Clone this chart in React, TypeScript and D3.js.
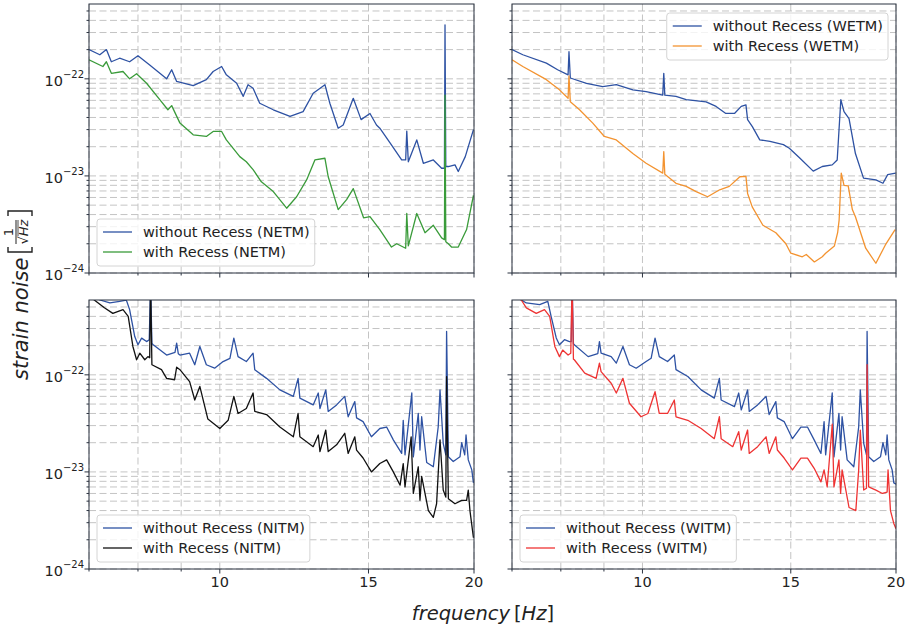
import React from "react";
import * as d3 from "d3";

type Pt = [number, number];

// ---- Spectra: [frequency (Hz), strain noise (1/sqrt(Hz))] ----
const netmWithout: Pt[] = [
  [7.0, 2.0e-22], [7.21, 1.77e-22], [7.34, 2.0e-22], [7.44, 1.5e-22], [7.61, 1.63e-22],
  [7.82, 1.5e-22], [8.0, 1.73e-22], [8.26, 1.39e-22], [8.65, 1.0e-22], [8.77, 1.24e-22],
  [8.89, 9.4e-23], [9.3, 8.5e-23], [9.64, 9.8e-23], [9.82, 1.19e-22], [10.05, 1.34e-22],
  [10.18, 1.1e-22], [10.47, 9.0e-23], [10.66, 6.6e-23], [10.8, 8.7e-23], [10.95, 8.0e-23],
  [11.15, 5.6e-23], [11.57, 4.8e-23], [12.11, 4.1e-23], [12.55, 4.6e-23], [12.9, 7.1e-23],
  [13.32, 8.7e-23], [13.5, 5.6e-23], [13.81, 3.1e-23], [14.0, 3.35e-23], [14.39, 6.3e-23],
  [14.7, 3.8e-23], [15.06, 4.4e-23], [15.33, 3.35e-23], [15.47, 3.1e-23], [15.9, 2.2e-23],
  [16.42, 1.46e-23], [16.6, 1.46e-23], [16.65, 2.9e-23], [16.72, 1.4e-23], [17.11, 2.35e-23],
  [17.42, 1.35e-23], [17.9, 1.46e-23], [18.31, 1.2e-23], [18.45, 1.2e-23], [18.48, 3.6e-22],
  [18.52, 1.25e-23], [18.65, 1.25e-23], [18.99, 1.3e-23], [19.16, 1.11e-23], [19.53, 1.58e-23],
  [19.97, 3.0e-23],
];
const netmWith: Pt[] = [
  [7.0, 1.57e-22], [7.27, 1.34e-22], [7.34, 1.5e-22], [7.44, 1.14e-22], [7.68, 1.19e-22],
  [7.82, 1.0e-22], [7.97, 1.13e-22], [8.19, 9.0e-23], [8.49, 6.1e-23], [8.68, 4.8e-23],
  [8.77, 5.3e-23], [8.97, 3.5e-23], [9.3, 2.65e-23], [9.64, 2.55e-23], [9.82, 2.87e-23],
  [10.05, 2.87e-23], [10.18, 2.35e-23], [10.56, 1.58e-23], [10.75, 1.4e-23], [10.95, 1.16e-23],
  [11.2, 8.7e-24], [11.57, 6.9e-24], [12.0, 4.65e-24], [12.33, 6.1e-24], [12.67, 9.1e-24],
  [12.96, 1.46e-23], [13.32, 1.52e-23], [13.44, 9.8e-24], [13.81, 4.5e-24], [14.13, 5.7e-24],
  [14.39, 7.4e-24], [14.8, 3.7e-24], [15.06, 3.8e-24], [15.47, 2.8e-24], [15.97, 1.85e-24],
  [16.2, 2.0e-24], [16.6, 1.8e-24], [16.65, 4.1e-24], [16.72, 1.9e-24], [17.11, 4.1e-24],
  [17.5, 2.6e-24], [17.9, 3.1e-24], [18.31, 2.3e-24], [18.45, 2.2e-24], [18.48, 6.8e-23],
  [18.52, 2.1e-24], [18.65, 2.0e-24], [18.81, 1.85e-24], [19.16, 1.85e-24], [19.6, 2.8e-24],
  [19.97, 6.3e-24],
];

const wetmWithout: Pt[] = [
  [7.0, 2.0e-22], [7.21, 1.77e-22], [7.69, 1.45e-22], [7.93, 1.24e-22], [8.16, 1.1e-22],
  [8.18, 1.9e-22], [8.21, 1.02e-22], [8.58, 9.0e-23], [8.97, 8.3e-23], [9.31, 8.7e-23],
  [9.74, 7.7e-23], [10.1, 7.4e-23], [10.57, 6.8e-23], [10.6, 1.14e-22], [10.63, 6.8e-23],
  [10.96, 6.6e-23], [11.27, 6.1e-23], [11.9, 5.8e-23], [12.23, 5.2e-23], [12.56, 4.4e-23],
  [12.86, 4.4e-23], [13.1, 5.2e-23], [13.27, 5.4e-23], [13.33, 3.8e-23], [13.51, 3.2e-23],
  [13.78, 2.35e-23], [14.17, 2.27e-23], [14.7, 2.1e-23], [14.94, 1.93e-23], [15.35, 1.55e-23],
  [15.95, 1.12e-23], [16.35, 1.25e-23], [16.8, 1.3e-23], [17.03, 1.46e-23], [17.2, 6.1e-23],
  [17.35, 4.6e-23], [17.59, 3.9e-23], [17.9, 1.7e-23], [18.3, 9.5e-24], [18.93, 9.1e-24],
  [19.3, 8.4e-24], [19.55, 1.03e-23], [19.98, 1.07e-23],
];
const wetmWith: Pt[] = [
  [7.0, 1.57e-22], [7.21, 1.34e-22], [7.69, 9.8e-23], [7.97, 7.7e-23], [8.16, 6.3e-23],
  [8.18, 1.07e-22], [8.21, 5.8e-23], [8.42, 4.8e-23], [8.73, 3.5e-23], [9.01, 2.55e-23],
  [9.31, 2.35e-23], [9.74, 1.7e-23], [10.1, 1.35e-23], [10.57, 1.07e-23], [10.6, 1.78e-23],
  [10.63, 1.04e-23], [10.96, 8.4e-24], [11.27, 7.8e-24], [11.58, 6.9e-24], [11.95, 6.1e-24],
  [12.35, 7.2e-24], [12.68, 7.8e-24], [13.05, 9.8e-24], [13.27, 9.9e-24], [13.33, 6.6e-24],
  [13.5, 4.8e-24], [13.9, 3.1e-24], [14.4, 2.6e-24], [14.8, 2.0e-24], [15.0, 1.6e-24],
  [15.48, 1.47e-24], [15.65, 1.55e-24], [16.0, 1.3e-24], [16.35, 1.47e-24], [16.5, 1.6e-24],
  [16.9, 1.9e-24], [17.05, 2.6e-24], [17.12, 3.5e-24], [17.22, 1.07e-23], [17.35, 8.0e-24],
  [17.55, 7.9e-24], [17.75, 4.5e-24], [17.9, 3.8e-24], [18.41, 1.8e-24], [18.93, 1.26e-24],
  [19.46, 2.0e-24], [19.95, 2.8e-24],
];

const nitmWithout: Pt[] = [
  [7.0, 7.5e-22], [7.21, 5.9e-22], [7.41, 5.5e-22], [7.61, 5.7e-22], [7.75, 5.9e-22],
  [7.82, 4.7e-22], [7.93, 2.48e-22], [8.0, 2.04e-22], [8.08, 2.39e-22], [8.19, 2.2e-22],
  [8.25, 2.3e-22], [8.28, 9.0e-22], [8.31, 2.1e-22], [8.34, 2.04e-22], [8.65, 1.6e-22],
  [8.85, 1.7e-22], [8.89, 2.12e-22], [8.93, 1.65e-22], [8.97, 1.6e-22], [9.21, 1.67e-22],
  [9.34, 1.27e-22], [9.47, 1.96e-22], [9.64, 1.27e-22], [9.86, 1.17e-22], [10.09, 1.37e-22],
  [10.28, 1.48e-22], [10.39, 2.39e-22], [10.51, 1.54e-22], [10.75, 1.37e-22], [10.95, 1.67e-22],
  [11.0, 1.13e-22], [11.36, 9.2e-23], [11.78, 7.0e-23], [12.22, 6.0e-23], [12.38, 9.2e-23],
  [12.44, 5.75e-23], [12.9, 4.9e-23], [13.08, 6.5e-23], [13.14, 4.5e-23], [13.35, 7.0e-23],
  [13.44, 4.2e-23], [13.75, 4.9e-23], [14.06, 6.0e-23], [14.19, 3.7e-23], [14.45, 5.3e-23],
  [14.52, 3.6e-23], [14.78, 3.3e-23], [15.12, 2.3e-23], [15.47, 2.8e-23], [15.76, 2.9e-23],
  [16.05, 2.14e-23], [16.42, 1.55e-23], [16.49, 3.4e-23], [16.57, 1.5e-23], [16.88, 6.5e-23],
  [16.95, 1.43e-23], [17.18, 4.0e-23], [17.26, 1.68e-23], [17.34, 3.7e-23], [17.58, 1.25e-23],
  [17.9, 1.13e-23], [18.14, 2.9e-23], [18.23, 7.0e-23], [18.39, 1.97e-23], [18.52, 1.5e-23],
  [18.56, 2.8e-22], [18.65, 1.43e-23], [18.9, 1.28e-23], [19.25, 1.43e-23], [19.34, 2.0e-23],
  [19.5, 1.5e-23], [19.57, 2.4e-23], [19.69, 1.33e-23], [19.88, 1.05e-23], [19.97, 7.7e-24],
];
const nitmWith: Pt[] = [
  [7.0, 6.5e-22], [7.3, 4.9e-22], [7.47, 4.3e-22], [7.68, 4.7e-22], [7.79, 4.0e-22],
  [7.89, 1.96e-22], [7.97, 1.43e-22], [8.04, 1.67e-22], [8.15, 1.43e-22], [8.22, 1.54e-22],
  [8.26, 1.5e-22], [8.28, 9.0e-22], [8.31, 1.27e-22], [8.53, 1.13e-22], [8.65, 9.2e-23],
  [8.84, 8.9e-23], [8.89, 1.2e-22], [8.97, 1.13e-22], [9.21, 8.5e-23], [9.34, 5.5e-23],
  [9.47, 7.6e-23], [9.68, 3.5e-23], [10.0, 2.8e-23], [10.23, 3.4e-23], [10.39, 6.0e-23],
  [10.51, 4.0e-23], [10.75, 4.5e-23], [10.95, 6.5e-23], [11.0, 4.2e-23], [11.36, 3.9e-23],
  [11.78, 2.9e-23], [12.22, 2.3e-23], [12.38, 4.0e-23], [12.44, 2.3e-23], [12.9, 1.82e-23],
  [13.08, 2.4e-23], [13.14, 1.62e-23], [13.35, 2.7e-23], [13.44, 1.62e-23], [13.75, 1.9e-23],
  [14.06, 2.5e-23], [14.19, 1.55e-23], [14.45, 2.3e-23], [14.52, 1.68e-23], [14.78, 1.39e-23],
  [15.12, 1.0e-23], [15.47, 1.22e-23], [15.76, 1.33e-23], [16.05, 1.0e-23], [16.35, 7.3e-24],
  [16.49, 1.22e-23], [16.57, 7.0e-24], [16.85, 2.3e-23], [16.95, 6.0e-24], [17.18, 1.13e-23],
  [17.26, 5.1e-24], [17.34, 9.0e-24], [17.66, 4.0e-24], [17.9, 3.4e-24], [18.06, 4.7e-24],
  [18.23, 2.14e-23], [18.39, 6.5e-24], [18.52, 5.5e-24], [18.56, 9.6e-23], [18.65, 5.3e-24],
  [18.99, 4.7e-24], [19.34, 5.1e-24], [19.6, 5.1e-24], [19.69, 6.5e-24], [19.78, 4.0e-24],
  [19.97, 2.1e-24],
];

const witmWithout: Pt[] = [
  [7.0, 7.5e-22], [7.18, 5.9e-22], [7.28, 5.5e-22], [7.55, 5.3e-22], [7.72, 5.7e-22],
  [7.79, 4.0e-22], [7.9, 2.4e-22], [7.97, 2.04e-22], [8.08, 2.3e-22], [8.19, 2.2e-22],
  [8.23, 2.2e-22], [8.25, 9.0e-22], [8.28, 2.1e-22], [8.3, 2.04e-22], [8.62, 1.54e-22],
  [8.85, 1.65e-22], [8.89, 2.2e-22], [8.93, 1.67e-22], [9.18, 1.54e-22], [9.31, 1.32e-22],
  [9.48, 1.96e-22], [9.65, 1.27e-22], [9.83, 1.17e-22], [10.1, 1.37e-22], [10.24, 1.48e-22],
  [10.35, 2.39e-22], [10.47, 1.54e-22], [10.71, 1.37e-22], [10.91, 1.6e-22], [10.96, 1.13e-22],
  [11.32, 9.6e-23], [11.74, 7.0e-23], [12.17, 5.75e-23], [12.34, 9.2e-23], [12.4, 5.5e-23],
  [12.86, 4.7e-23], [13.01, 6.5e-23], [13.1, 4.35e-23], [13.33, 7.0e-23], [13.39, 4.2e-23],
  [13.7, 4.9e-23], [14.02, 6.0e-23], [14.14, 3.9e-23], [14.4, 5.3e-23], [14.46, 3.6e-23],
  [14.73, 3.3e-23], [15.07, 2.2e-23], [15.42, 2.9e-23], [15.7, 2.9e-23], [15.99, 2.14e-23],
  [16.29, 1.55e-23], [16.43, 3.3e-23], [16.5, 1.5e-23], [16.8, 6.5e-23], [16.88, 1.43e-23],
  [17.11, 4.0e-23], [17.19, 1.68e-23], [17.26, 3.7e-23], [17.5, 1.33e-23], [17.82, 1.13e-23],
  [18.06, 2.9e-23], [18.14, 7.0e-23], [18.31, 1.97e-23], [18.45, 1.5e-23], [18.48, 2.8e-22],
  [18.56, 1.43e-23], [18.82, 1.28e-23], [19.17, 1.43e-23], [19.3, 2.0e-23], [19.45, 1.5e-23],
  [19.52, 2.4e-23], [19.61, 1.33e-23], [19.79, 1.05e-23], [19.88, 7.7e-24], [20.0, 7.5e-24],
];
const witmWith: Pt[] = [
  [7.0, 6.5e-22], [7.18, 5.9e-22], [7.28, 4.9e-22], [7.48, 4.3e-22], [7.65, 4.7e-22],
  [7.76, 4.0e-22], [7.87, 1.96e-22], [7.97, 1.54e-22], [8.04, 1.8e-22], [8.16, 1.6e-22],
  [8.22, 1.67e-22], [8.25, 9.0e-22], [8.28, 1.45e-22], [8.3, 1.43e-22], [8.54, 1.04e-22],
  [8.81, 9.2e-23], [8.89, 1.32e-22], [8.93, 1.08e-22], [9.18, 8.2e-23], [9.31, 6.5e-23],
  [9.48, 9.2e-23], [9.65, 5.1e-23], [9.96, 3.7e-23], [10.15, 4.0e-23], [10.35, 6.7e-23],
  [10.47, 4.0e-23], [10.71, 4.0e-23], [10.91, 5.5e-23], [10.96, 3.7e-23], [11.32, 3.4e-23],
  [11.74, 2.8e-23], [12.17, 2.2e-23], [12.34, 3.7e-23], [12.4, 2.2e-23], [12.8, 1.82e-23],
  [13.01, 2.6e-23], [13.1, 1.68e-23], [13.33, 2.7e-23], [13.39, 1.55e-23], [13.7, 1.82e-23],
  [14.02, 2.3e-23], [14.14, 1.55e-23], [14.4, 2.3e-23], [14.46, 1.68e-23], [14.73, 1.39e-23],
  [15.07, 1.05e-23], [15.42, 1.39e-23], [15.7, 1.39e-23], [15.99, 1.09e-23], [16.29, 7.9e-24],
  [16.43, 1.05e-23], [16.57, 7.0e-24], [16.8, 3.1e-23], [16.88, 7.0e-24], [17.11, 1.33e-23],
  [17.19, 6.0e-24], [17.26, 1.05e-23], [17.59, 4.3e-24], [17.92, 4.0e-24], [18.06, 1.05e-23],
  [18.14, 2.7e-23], [18.31, 6.5e-24], [18.45, 6.8e-24], [18.48, 1.27e-22], [18.56, 7.0e-24],
  [18.93, 6.5e-24], [19.27, 6.0e-24], [19.52, 6.2e-24], [19.57, 1.05e-23], [19.7, 4.0e-24],
  [19.88, 2.95e-24], [20.0, 2.6e-24],
];

// ---- Axis settings ----
const xDomain: [number, number] = [7, 20];
const yDomain: [number, number] = [1e-24, 5.9e-22];
const xMajorTicks = [10, 15, 20];
const xMinorTicks = [7, 8, 9];
const yExponents = [-24, -23, -22];
const yMantissas = [1, 2, 3, 4, 5, 6, 7, 8, 9];

// ---- Panel definitions ----
const panelNames = ["NETM", "WETM", "NITM", "WITM"];
const withoutSeries = [netmWithout, wetmWithout, nitmWithout, witmWithout];
const withSeries = [netmWith, wetmWith, nitmWith, witmWith];
const withColors = ["#3a9b3a", "#f39330", "#111111", "#ee3333"];
const withoutColor = "#2e52a3";
const legendCorners = ["lower left", "upper right", "lower left", "lower left"];

const COLS: [number, number][] = [[89, 474], [512, 896]];
const ROWS: [number, number][] = [[4, 273], [300, 569]];
const FONT = "'DejaVu Sans', 'Liberation Sans', sans-serif";
const TICK_FS = 14.5;

function measure(text: string, size: number): number {
  if (typeof document === "undefined") return text.length * size * 0.55;
  const c = document.createElement("canvas").getContext("2d");
  if (!c) return text.length * size * 0.55;
  c.font = `${size}px 'DejaVu Sans'`;
  return c.measureText(text).width;
}

function Panel({ idx }: { idx: number }) {
  const col = idx % 2;
  const row = Math.floor(idx / 2);
  const [x0, x1] = COLS[col];
  const [y0, y1] = ROWS[row];
  const x = d3.scaleLog().domain(xDomain).range([x0, x1]);
  const y = d3.scaleLog().domain(yDomain).range([y1, y0]);
  const line = d3
    .line<Pt>()
    .x((d) => x(d[0]))
    .y((d) => y(d[1]));

  const yGrid: { v: number; major: boolean }[] = [];
  yExponents.forEach((e) =>
    yMantissas.forEach((m) => {
      const v = m * Math.pow(10, e);
      if (v >= yDomain[0] && v <= yDomain[1]) yGrid.push({ v, major: m === 1 });
    })
  );
  const xGrid = [...xMinorTicks, ...xMajorTicks];
  const clipId = `clip-${idx}`;
  const name = panelNames[idx];

  // legend
  const labels = [`without Recess (${name})`, `with Recess (${name})`];
  const tw = Math.max(...labels.map((l) => measure(l, TICK_FS)));
  const lw = 46 + tw + 5;
  const lh = 47;
  const corner = legendCorners[idx];
  const lx = corner === "upper right" ? x1 - 8 - lw : x0 + 8;
  const ly = corner === "upper right" ? y0 + 9 : y1 - 7 - lh;
  const legendColors = [withoutColor, withColors[idx]];

  return (
    <g>
      <defs>
        <clipPath id={clipId}>
          <rect x={x0} y={y0} width={x1 - x0} height={y1 - y0} />
        </clipPath>
      </defs>
      <rect x={x0} y={y0} width={x1 - x0} height={y1 - y0} fill="#ffffff" />
      {/* grid */}
      <g stroke="#c4c4c4" strokeWidth={1} strokeDasharray="7,3.5">
        {yGrid.map((g, i) => (
          <line key={`gy${i}`} x1={x0} x2={x1} y1={y(g.v)} y2={y(g.v)} />
        ))}
        {xGrid.map((f, i) => (
          <line key={`gx${i}`} x1={x(f)} x2={x(f)} y1={y0} y2={y1} />
        ))}
      </g>
      {/* spectra */}
      <g clipPath={`url(#${clipId})`} fill="none" strokeWidth={1.3} strokeLinejoin="round">
        <path d={line(withoutSeries[idx]) || ""} stroke={withoutColor} />
        <path d={line(withSeries[idx]) || ""} stroke={withColors[idx]} />
      </g>
      {/* spines */}
      <rect x={x0} y={y0} width={x1 - x0} height={y1 - y0} fill="none" stroke="#2b3340" strokeWidth={1} />
      {/* ticks */}
      <g stroke="#2b3340" strokeWidth={1}>
        {yGrid.map((g, i) => (
          <line key={`ty${i}`} x1={x0 - (g.major ? 4.5 : 2.5)} x2={x0} y1={y(g.v)} y2={y(g.v)} />
        ))}
        {xGrid.map((f, i) => (
          <line
            key={`tx${i}`}
            x1={x(f)}
            x2={x(f)}
            y1={y1}
            y2={y1 + (xMajorTicks.includes(f) ? 4.5 : 2.5)}
          />
        ))}
      </g>
      {col === 0 &&
        yExponents.map((e) => (
          <text
            key={`yl${e}`}
            x={x0 - 5}
            y={y(Math.pow(10, e)) + 7}
            textAnchor="end"
            fontFamily={FONT}
            fontSize={TICK_FS}
            fill="#222"
          >
            10
            <tspan dy={-8} fontSize={10}>
              {`\u2212${Math.abs(e)}`}
            </tspan>
          </text>
        ))}
      {row === 1 &&
        xMajorTicks.map((f) => (
          <text
            key={`xl${f}`}
            x={x(f)}
            y={y1 + 18}
            textAnchor="middle"
            fontFamily={FONT}
            fontSize={TICK_FS}
            fill="#222"
          >
            {f}
          </text>
        ))}
      {/* legend */}
      <g>
        <rect
          x={lx}
          y={ly}
          width={lw}
          height={lh}
          rx={3}
          fill="#ffffff"
          fillOpacity={0.8}
          stroke="#d4d4d4"
          strokeWidth={1}
        />
        {labels.map((l, i) => (
          <g key={l}>
            <line
              x1={lx + 6}
              x2={lx + 35}
              y1={ly + 13 + i * 20}
              y2={ly + 13 + i * 20}
              stroke={legendColors[i]}
              strokeWidth={1.3}
            />
            <text
              x={lx + 46}
              y={ly + 18 + i * 20}
              fontFamily={FONT}
              fontSize={TICK_FS}
              fill="#222"
            >
              {l}
            </text>
          </g>
        ))}
      </g>
    </g>
  );
}

export default function App() {
  return (
    <svg
      width={906}
      height={628}
      viewBox="0 0 906 628"
      style={{ position: "fixed", left: 0, top: 0, background: "#ffffff" }}
    >
      <rect x={0} y={0} width={906} height={628} fill="#ffffff" />
      {[0, 1, 2, 3].map((i) => (
        <Panel key={i} idx={i} />
      ))}
      {/* x axis label */}
      <text x={483} y={620} textAnchor="middle" fontFamily={FONT} fontSize={19.5} fill="#222">
        <tspan fontStyle="italic">frequency</tspan>
        <tspan>{"\u2009["}</tspan>
        <tspan fontStyle="italic">Hz</tspan>
        <tspan>]</tspan>
      </text>
      {/* y axis label */}
      <g transform="translate(28,291) rotate(-90)" fontFamily={FONT} fill="#222">
        <text x={-89} y={0} fontSize={21} fontStyle="italic">
          strain noise
        </text>
        <path d="M 44 -20 L 39 -20 L 39 4 L 44 4" fill="none" stroke="#222" strokeWidth={1.4} />
        <text x={59} y={-15} fontSize={13} textAnchor="middle">
          1
        </text>
        <line x1={47} x2={71} y1={-12} y2={-12} stroke="#222" strokeWidth={1} />
        <text x={59} y={0} fontSize={13} textAnchor="middle">
          {"\u221A"}
          <tspan fontStyle="italic">Hz</tspan>
        </text>
        <line x1={55} x2={71} y1={-10} y2={-10} stroke="#222" strokeWidth={0.8} />
        <path d="M 75 -20 L 80 -20 L 80 4 L 75 4" fill="none" stroke="#222" strokeWidth={1.4} />
      </g>
    </svg>
  );
}
